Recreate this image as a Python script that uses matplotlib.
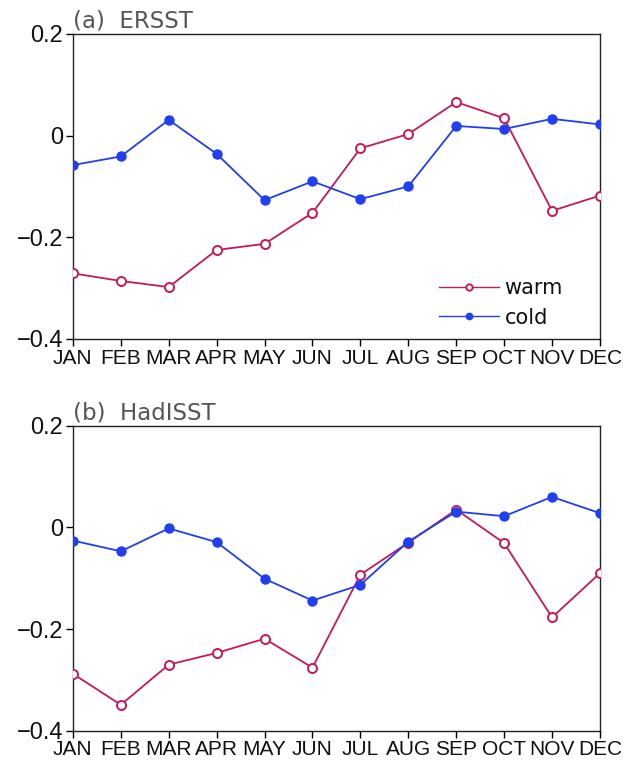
import numpy as np
import matplotlib
matplotlib.use('Agg')
import matplotlib.pyplot as plt

months = ["JAN", "FEB", "MAR", "APR", "MAY", "JUN", "JUL", "AUG", "SEP", "OCT", "NOV", "DEC"]

# (a) ERSST
ersst_warm = [-0.271, -0.286, -0.298, -0.225, -0.213, -0.152, -0.025, 0.003, 0.066, 0.034, -0.148, -0.118]
ersst_cold = [-0.058, -0.041, 0.031, -0.036, -0.127, -0.090, -0.125, -0.100, 0.019, 0.013, 0.033, 0.022]

# (b) HadISST
had_warm = [-0.288, -0.349, -0.270, -0.247, -0.219, -0.276, -0.093, -0.030, 0.035, -0.031, -0.177, -0.090]
had_cold = [-0.026, -0.047, -0.002, -0.029, -0.101, -0.144, -0.113, -0.028, 0.031, 0.022, 0.060, 0.028]

panels = [("(a)  ERSST", ersst_warm, ersst_cold), ("(b)  HadISST", had_warm, had_cold)]

warm_c = "#c8185a"
cold_c = "#1f3ff0"
tick_font = ['Liberation Sans', 'DejaVu Sans']

fig = plt.figure(figsize=(6.23, 7.65), dpi=100)
rects = [[0.117, 0.557, 0.846, 0.3986], [0.117, 0.0448, 0.846, 0.3987]]
x = np.arange(len(months))

for i, (title, warm, cold) in enumerate(panels):
    ax = fig.add_axes(rects[i])
    ax.plot(x, warm, color=warm_c, lw=1.3, marker='o', ms=6.5, mfc='white',
            mec=warm_c, mew=1.4, label='warm', zorder=3)
    ax.plot(x, cold, color=cold_c, lw=1.3, marker='o', ms=6.5, mfc=cold_c,
            mec=cold_c, label='cold', zorder=4)
    ax.set_xlim(0, 11)
    ax.set_ylim(-0.4, 0.2)
    ax.set_xticks(x)
    ax.set_xticklabels(months)
    ax.set_yticks([-0.4, -0.2, 0, 0.2])
    ax.set_yticklabels(["\u22120.4", "\u22120.2", "0", "0.2"])
    ax.tick_params(direction='out', length=5, width=1, top=False, right=False,
                   pad=2, labelcolor='#111111')
    ax.tick_params(axis='x', labelsize=15)
    ax.tick_params(axis='y', labelsize=17)
    for lab in ax.get_xticklabels() + ax.get_yticklabels():
        lab.set_family(tick_font)
    for sp in ax.spines.values():
        sp.set_linewidth(1.0)
        sp.set_color('#222222')
    ax.text(0.0, 1.004, title, transform=ax.transAxes, ha='left', va='bottom',
            fontsize=16.5, color='#555555', family=['DejaVu Sans'])
    if i == 0:
        leg = ax.legend(loc='lower right', bbox_to_anchor=(0.965, -0.025), frameon=False,
                        handlelength=2.9, handletextpad=0.25, labelspacing=0.45,
                        fontsize=15, markerscale=0.7)
        for h in leg.legend_handles:
            h.set_linewidth(1.0)
        for t in leg.get_texts():
            t.set_color('#111111')

fig.savefig("out.png", dpi=100)
